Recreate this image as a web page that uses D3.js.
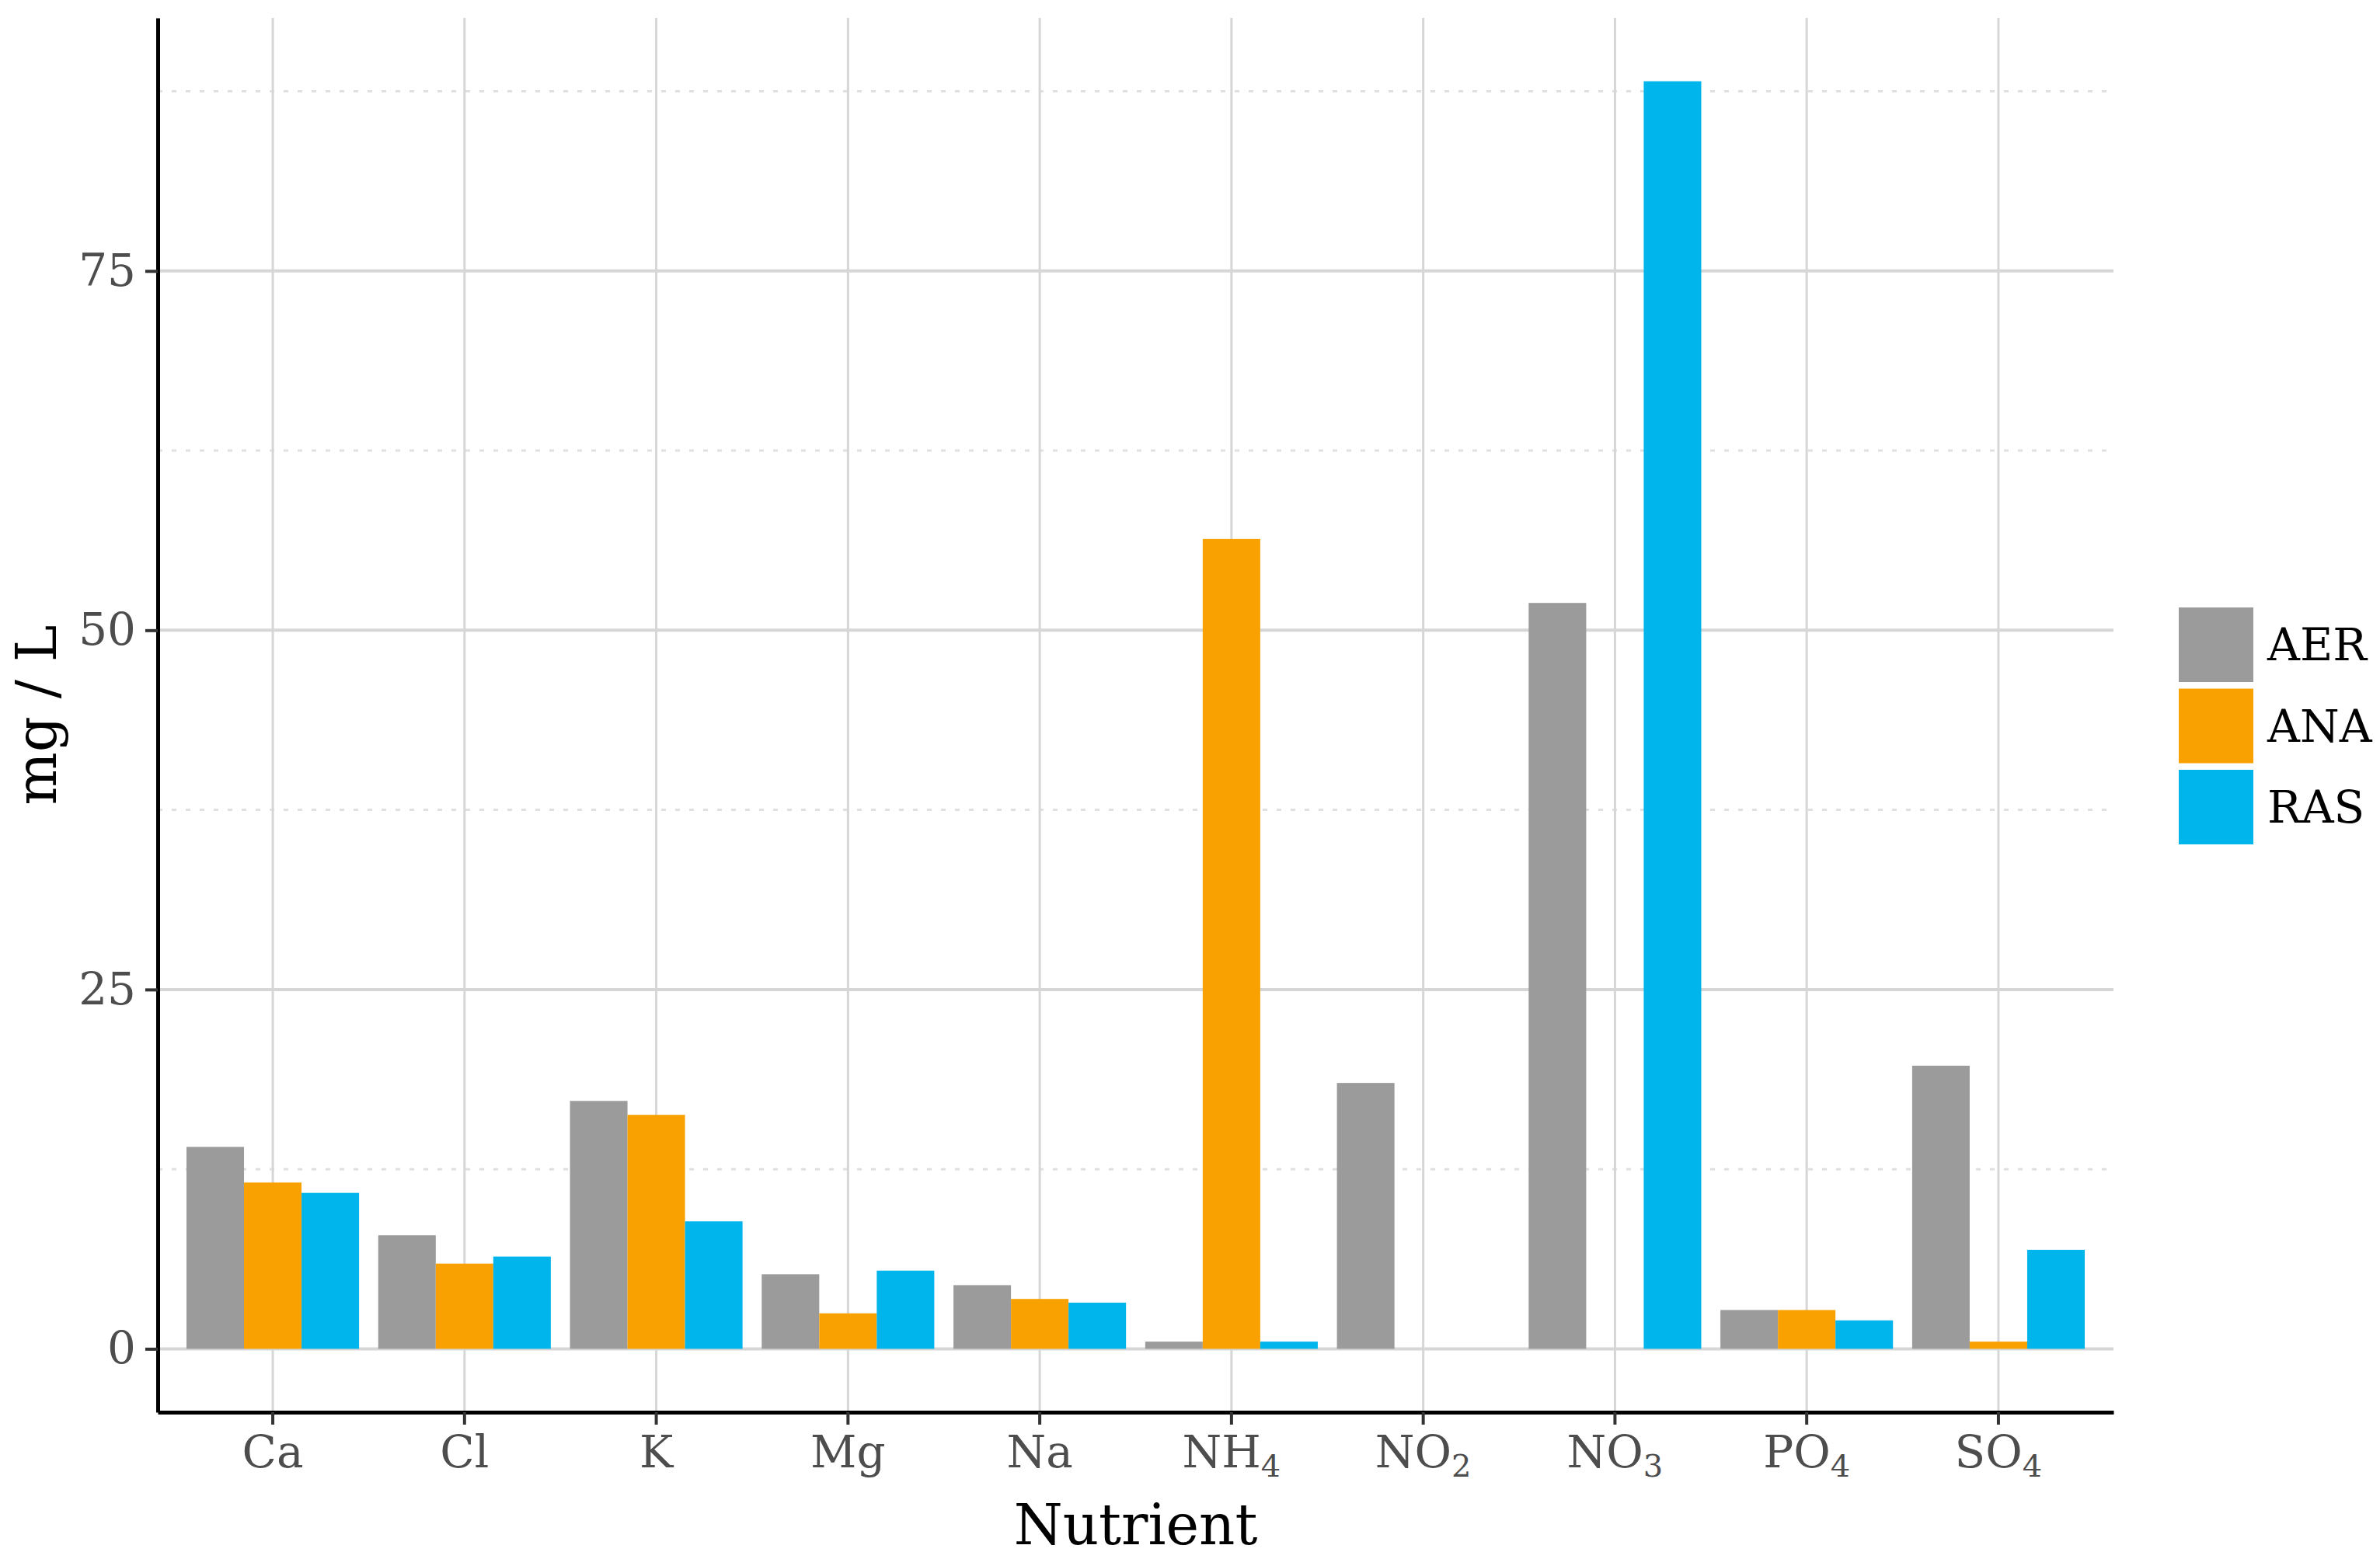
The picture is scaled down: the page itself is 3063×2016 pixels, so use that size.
<!DOCTYPE html>
<html>
<head>
<meta charset="utf-8">
<script src="https://cdn.jsdelivr.net/npm/d3@7"></script>
<style>
  body { margin: 0; background: #fff; }
  text { font-family: "DejaVu Serif", serif; }
</style>
</head>
<body>
<div id="chart"></div>
<script>
const nutrients = ['Ca', 'Cl', 'K', 'Mg', 'Na', 'NH4', 'NO2', 'NO3', 'PO4', 'SO4'];
const series = ['AER', 'ANA', 'RAS'];
const colors = ['#9b9b9b', '#f9a100', '#00b4ec'];

const aer = [14.05, 7.9, 17.25, 5.19, 4.43, 0.5, 18.5, 51.9, 2.7, 19.7];
const ana = [11.57, 5.93, 16.28, 2.47, 3.47, 56.35, 0, 0, 2.7, 0.5];
const ras = [10.85, 6.42, 8.87, 5.44, 3.21, 0.5, 0, 88.2, 1.98, 6.89];

const majorTicks = [0, 25, 50, 75];
const minorTicks = [12.5, 37.5, 62.5, 87.5];

const WIDTH = 3063;
const HEIGHT = 2016;
const PANEL = {LEFT: 203, RIGHT: 2720, TOP: 23, BOTTOM: 1818};

const values = [aer, ana, ras];
const data = [];
nutrients.forEach((n, i) => {
  series.forEach((s, j) => {
    data.push({nutrient: n, series: s, value: values[j][i]});
  });
});

const svg = d3.select('#chart')
  .append('svg')
    .attr('width', WIDTH)
    .attr('height', HEIGHT);

const x = d3.scaleBand()
  .domain(nutrients)
  .range([PANEL.LEFT, PANEL.RIGHT])
  .paddingInner(0)
  .paddingOuter(0.1);

const xInner = d3.scaleBand()
  .domain(series)
  .range([-0.45 * x.step(), 0.45 * x.step()]);

const maxVal = d3.max(data, d => d.value);
const y = d3.scaleLinear()
  .domain([-0.05 * maxVal, maxVal * 1.05])
  .range([PANEL.BOTTOM, PANEL.TOP]);

const color = d3.scaleOrdinal().domain(series).range(colors);

const center = d => x(d) + x.bandwidth() / 2;

// grid
const grid = svg.append('g');
grid.selectAll('.minor')
  .data(minorTicks)
  .enter().append('line')
    .attr('x1', PANEL.LEFT)
    .attr('x2', PANEL.RIGHT)
    .attr('y1', d => y(d))
    .attr('y2', d => y(d))
    .attr('stroke', '#e0e0e0')
    .attr('stroke-width', 3)
    .attr('stroke-dasharray', '6,12');

grid.selectAll('.major')
  .data(majorTicks)
  .enter().append('line')
    .attr('x1', PANEL.LEFT)
    .attr('x2', PANEL.RIGHT)
    .attr('y1', d => y(d))
    .attr('y2', d => y(d))
    .attr('stroke', '#d6d6d6')
    .attr('stroke-width', 4);

grid.selectAll('.vert')
  .data(nutrients)
  .enter().append('line')
    .attr('x1', d => center(d))
    .attr('x2', d => center(d))
    .attr('y1', PANEL.TOP)
    .attr('y2', PANEL.BOTTOM)
    .attr('stroke', '#d6d6d6')
    .attr('stroke-width', 3);

// bars
svg.append('g').selectAll('rect')
  .data(data)
  .enter().append('rect')
    .attr('x', d => center(d.nutrient) + xInner(d.series))
    .attr('width', xInner.bandwidth())
    .attr('y', d => y(d.value))
    .attr('height', d => y(0) - y(d.value))
    .attr('fill', d => color(d.series));

// axes
const xAxisGroup = svg.append('g')
  .attr('transform', `translate(0, ${PANEL.BOTTOM})`)
  .call(d3.axisBottom(x).tickSize(16).tickSizeOuter(0).tickPadding(14));

const yAxisGroup = svg.append('g')
  .attr('transform', `translate(${PANEL.LEFT}, 0)`)
  .call(d3.axisLeft(y).tickValues(majorTicks).tickSize(16).tickSizeOuter(0).tickPadding(12));

[xAxisGroup, yAxisGroup].forEach(g => {
  g.select('.domain').attr('stroke', '#000').attr('stroke-width', 5);
  g.selectAll('.tick line').attr('stroke', '#333').attr('stroke-width', 4);
  g.selectAll('.tick text')
    .attr('fill', '#4d4d4d')
    .attr('font-size', 58)
    .attr('font-family', '"DejaVu Serif", serif');
});

// subscripts on nutrient labels
xAxisGroup.selectAll('.tick text').each(function(d) {
  const m = d.match(/^([A-Za-z]+)(\d*)$/);
  const t = d3.select(this).text(null);
  t.append('tspan').text(m[1]);
  if (m[2]) {
    t.append('tspan')
      .attr('font-size', 40)
      .attr('dy', '0.3em')
      .text(m[2]);
  }
});

// axis titles
svg.append('text')
  .attr('x', (PANEL.LEFT + PANEL.RIGHT) / 2)
  .attr('y', 1988)
  .attr('text-anchor', 'middle')
  .attr('font-size', 72)
  .attr('fill', '#000')
  .text('Nutrient');

svg.append('text')
  .attr('transform', `translate(72, ${(PANEL.TOP + PANEL.BOTTOM) / 2}) rotate(-90)`)
  .attr('text-anchor', 'middle')
  .attr('font-size', 72)
  .attr('fill', '#000')
  .text('mg / L');

// legend
const legend = svg.append('g')
  .attr('transform', 'translate(2804, 782)');

const items = legend.selectAll('g')
  .data(series)
  .enter().append('g')
    .attr('transform', (d, i) => `translate(0, ${i * 104.5})`);

items.append('rect')
  .attr('width', 96)
  .attr('height', 96)
  .attr('fill', d => color(d));

items.append('text')
  .attr('x', 114)
  .attr('y', 48)
  .attr('dy', '0.35em')
  .attr('font-size', 58)
  .attr('fill', '#000')
  .text(d => d);
</script>
</body>
</html>
